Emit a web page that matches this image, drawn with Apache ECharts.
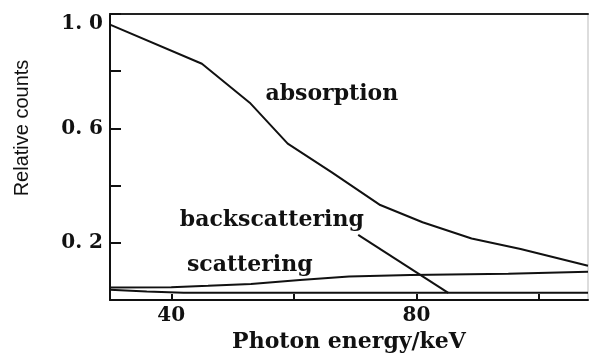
<!DOCTYPE html>
<html>
<head>
<meta charset="utf-8">
<script src="https://cdn.jsdelivr.net/npm/echarts@6/dist/echarts.min.js"></script>
<style>
html, body { margin: 0; padding: 0; background: #fff; }
#main { width: 589px; height: 358px; }
</style>
</head>
<body>
<div id="main"></div>
<script>
// 吸收曲线 [keV, 相对计数]
var absorption = [[30, 0.963], [45, 0.826], [52.8, 0.69], [59, 0.547], [66.2, 0.446], [74.1, 0.332], [81, 0.272], [89, 0.215], [97, 0.178], [108, 0.12]]
// 散射
var scattering = [[30, 0.044], [40, 0.045], [46, 0.05], [53, 0.056], [61, 0.07], [69, 0.082], [79, 0.087], [95, 0.092], [108, 0.099]]
// 背散射
var backscattering = [[30, 0.036], [36, 0.03], [42, 0.025], [60, 0.025], [85, 0.025], [108, 0.025]]
// 背散射标注引线
var leader = [[70.5, 0.228], [85.2, 0.025]]
// 曲线文字标注
var notes = [
    { name: 'absorption', value: [66.2, 0.718] },
    { name: 'backscattering', value: [56.4, 0.279] },
    { name: 'scattering', value: [52.8, 0.121] }
]
var xTicks = [40, 60, 80, 100]
var xLabels = [40, 80]
var yLabels = [0.2, 0.6, 1.0]

var serif = 'DejaVu Serif'
var myChart = echarts.init(document.getElementById('main'))

function lineSeries(name, data) {
    return {
        name: name,
        type: 'line',
        data: data,
        symbol: 'none',
        smooth: false,
        lineStyle: { color: '#111', width: 2 },
        z: 3
    }
}

var option = {
    animation: false,
    grid: {
        left: 110, right: 1, top: 14, bottom: 47,
        show: true, borderColor: '#bbb', borderWidth: 1
    },
    xAxis: [{
        type: 'value',
        min: 30,
        max: 108,
        name: 'Photon energy/keV',
        nameLocation: 'middle',
        nameGap: 31,
        nameTextStyle: { fontFamily: serif, fontWeight: 'bold', fontSize: 22, color: '#111' },
        axisLine: { lineStyle: { color: '#111', width: 2 } },
        axisTick: { inside: true, length: 6, customValues: xTicks, lineStyle: { color: '#111', width: 2 } },
        axisLabel: { customValues: xLabels, fontFamily: serif, fontWeight: 'bold', fontSize: 20, color: '#111', margin: 6 },
        splitLine: { show: false }
    }, {
        type: 'value',
        position: 'top',
        min: 30,
        max: 108,
        axisLine: { show: true, lineStyle: { color: '#222', width: 2 } },
        axisTick: { show: false },
        axisLabel: { show: false },
        splitLine: { show: false }
    }],
    yAxis: {
        type: 'value',
        min: 0,
        max: 1,
        interval: 0.2,
        axisLine: { show: true, lineStyle: { color: '#111', width: 2 } },
        axisTick: { inside: true, length: 11, lineStyle: { color: '#111', width: 2 } },
        axisLabel: {
            fontFamily: serif, fontWeight: 'bold', fontSize: 20, color: '#111', margin: 7,
            verticalAlignMaxLabel: 'top',
            formatter: function (v) {
                var ok = yLabels.some(function (l) { return Math.abs(l - v) < 1e-6 })
                if (!ok) return ''
                var s = v.toFixed(1).split('.')
                return s[0] + '. ' + s[1]
            }
        },
        splitLine: { show: false }
    },
    graphic: [{
        type: 'text',
        x: 22, y: 128,
        rotation: Math.PI / 2,
        style: {
            text: 'Relative counts',
            fontFamily: 'Liberation Sans Narrow, Liberation Sans',
            fontSize: 20,
            fill: '#111',
            align: 'center',
            verticalAlign: 'middle'
        }
    }],
    series: [
        lineSeries('absorption', absorption),
        lineSeries('scattering', scattering),
        lineSeries('backscattering', backscattering),
        lineSeries('leader', leader),
        {
            name: 'notes',
            type: 'scatter',
            data: notes,
            symbolSize: 0,
            itemStyle: { opacity: 1 },
            label: {
                show: true,
                position: [0, 0],
                align: 'center',
                verticalAlign: 'middle',
                formatter: '{b}',
                fontFamily: serif,
                fontWeight: 'bold',
                fontSize: 22,
                color: '#111',
                opacity: 1
            },
            z: 4
        }
    ]
}
myChart.setOption(option)
</script>
</body>
</html>
